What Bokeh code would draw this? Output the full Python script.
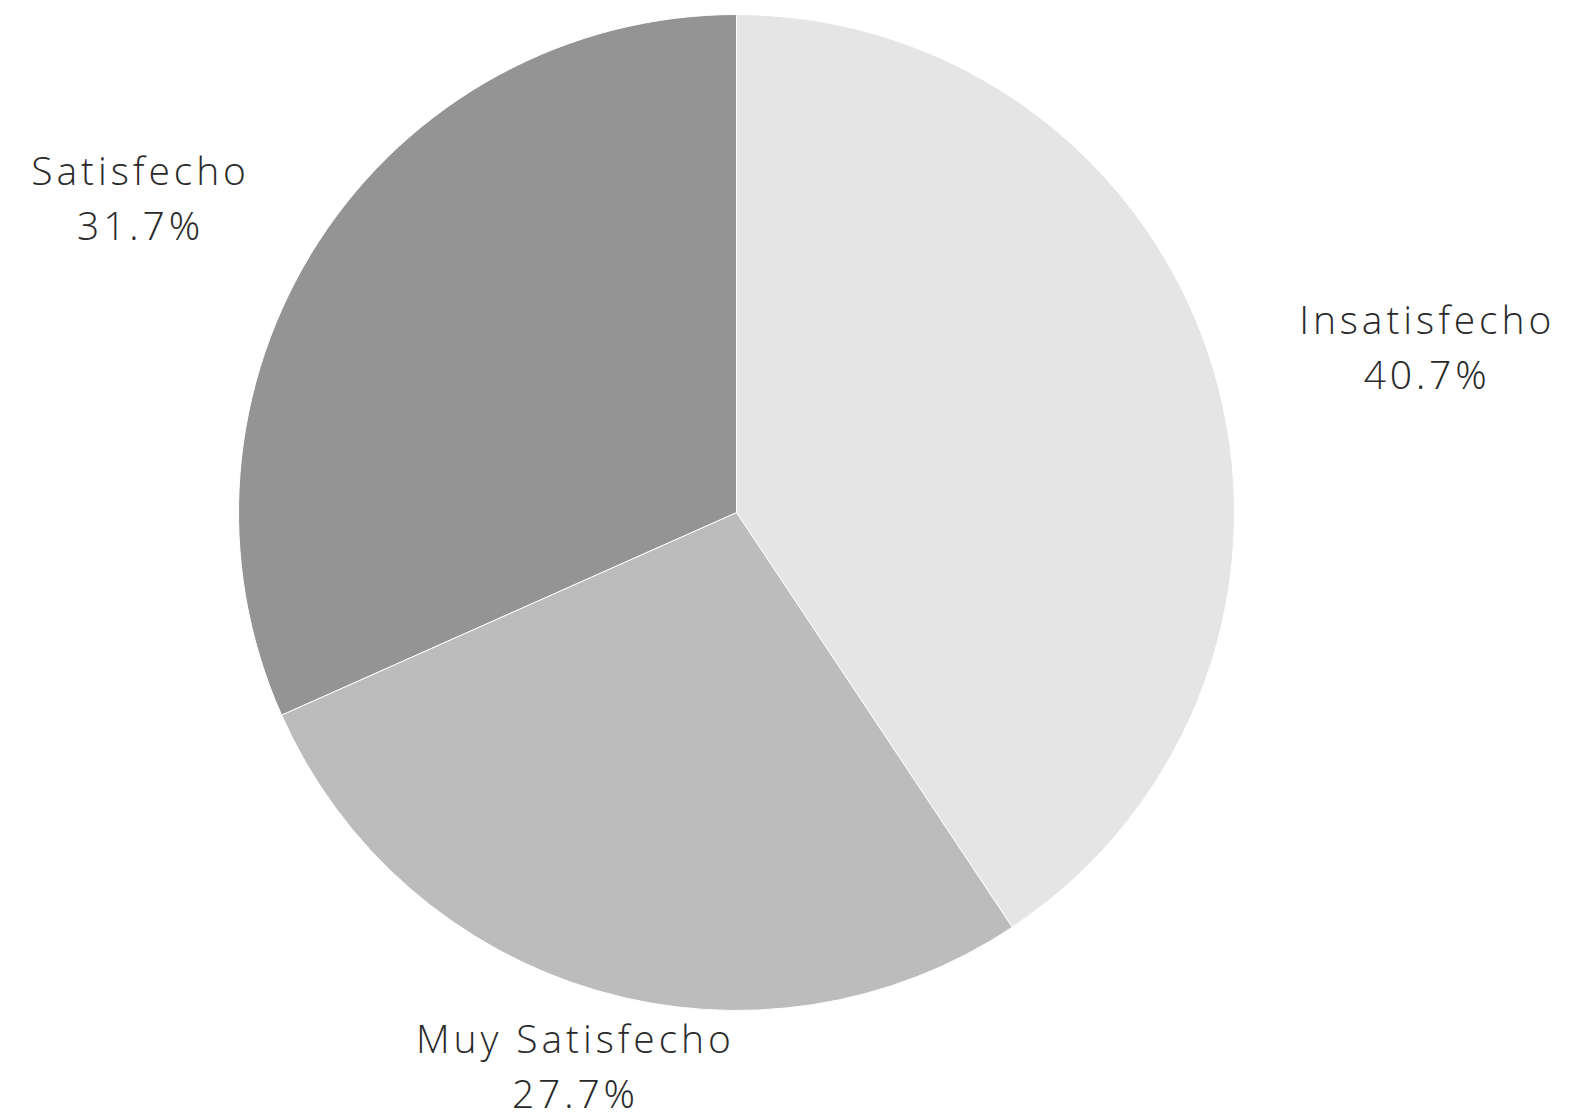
import math
from bokeh.plotting import figure
from bokeh.models import Range1d, ColumnDataSource, InlineStyleSheet
from bokeh.core.properties import value
from bokeh.embed import file_html
from bokeh.resources import INLINE

# ---- data ----
categories = ["Insatisfecho", "Muy Satisfecho", "Satisfecho"]
percentages = [40.7, 27.7, 31.7]
colors = ["#e5e5e5", "#bcbcbc", "#949494"]

# ---- layout (pixels) ----
W, H = 1587, 1116
CX, CY = 736, H - 512   # pie centre in plot coordinates (y up)
R = 498
LABEL_R = 585
FONT_PX = 39
LINE_GAP = 55
LS = 3.9   # letter spacing, px

p = figure(width=W, height=H, output_backend="svg", toolbar_location=None,
           x_range=Range1d(0, W), y_range=Range1d(0, H),
           min_border=0, border_fill_color="white", background_fill_color="white")
p.axis.visible = False
p.grid.visible = False
p.outline_line_color = None
p.stylesheets = [InlineStyleSheet(
    css=f":host, :host * {{ letter-spacing: {LS}px; }} text {{ letter-spacing: {LS}px !important; }}")]

total = sum(percentages)
starts, ends, mids = [], [], []
cum = 0.0
for v in percentages:
    f0 = cum / total
    cum += v
    f1 = cum / total
    starts.append(math.pi / 2 - f0 * 2 * math.pi)
    ends.append(math.pi / 2 - f1 * 2 * math.pi)
    mids.append(math.pi / 2 - (f0 + f1) / 2 * 2 * math.pi)

src = ColumnDataSource(dict(x=[CX] * 3, y=[CY] * 3, start=starts, end=ends, color=colors))
p.wedge(x="x", y="y", radius=R, start_angle="start", end_angle="end",
        direction="clock", fill_color="color", line_color="white", line_width=1,
        source=src)

lx1, lx2, ly1, ly2, t1, t2 = [], [], [], [], [], []
for cat, v, a in zip(categories, percentages, mids):
    pct = f"{v:.1f}%"
    ax = CX + LABEL_R * math.cos(a)
    ay = CY + LABEL_R * math.sin(a)
    half_w = 0.55 * FONT_PX * max(len(cat), len(pct)) / 2
    c = math.cos(a)
    if c > 0.5:
        ax += half_w
    elif c < -0.5:
        ax -= half_w
    else:
        ay += 12
    lx1.append(ax - (len(cat) - 1) * LS / 2)
    lx2.append(ax - (len(pct) - 1) * LS / 2)
    ly1.append(ay + LINE_GAP / 2 - 3)
    ly2.append(ay - LINE_GAP / 2 - 3)
    t1.append(cat)
    t2.append(pct)

lsrc = ColumnDataSource(dict(x1=lx1, x2=lx2, y1=ly1, y2=ly2, t1=t1, t2=t2))
for xk, yk, tk in (("x1", "y1", "t1"), ("x2", "y2", "t2")):
    p.text(x=xk, y=yk, text=tk, source=lsrc, text_align="center", text_baseline="middle",
           text_font=value("Open Sans Light, Open Sans"), text_font_size=f"{FONT_PX}px",
           text_color="#2a2a2a")

open("out.html", "w").write(file_html(p, INLINE))
